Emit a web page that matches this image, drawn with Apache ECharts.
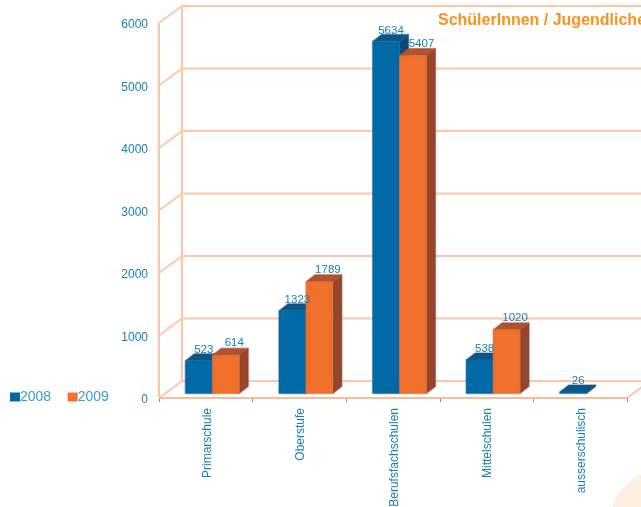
<!DOCTYPE html>
<html><head><meta charset="utf-8">
<style>html,body{margin:0;padding:0;background:#fff}#c{width:641px;height:507px}</style>
<script src="https://cdn.jsdelivr.net/npm/echarts@6/dist/echarts.min.js"></script>
</head><body><div id="c"></div>
<script>
const categories = ['Primarschule','Oberstufe','Berufsfachschulen','Mittelschulen','ausserschulisch'];
const values2008 = [523,1323,5634,538,26];
const values2009 = [614,1789,5407,1020,null];
const yTicks = [0,1000,2000,3000,4000,5000,6000];
const FONT = '"Liberation Sans", Arial, sans-serif';
const LINE = '#fcc7a9', TEXT = '#1b7db6';
const WALL_X = 23, WALL_Y = -17, BAR_X = 9, BAR_Y = -7, SHIFT_X = 6.5, SHIFT_Y = -4.5, BAR_FRAC = 27/93.6;

function line(x1,y1,x2,y2,color){
  return {type:'line',shape:{x1,y1,x2,y2},style:{stroke:color||LINE,lineWidth:2},silent:true};
}
function wallItem(params, api){
  const v = api.value(0), cs = params.coordSys, y = api.coord([0,v])[1];
  const kids = [
    line(cs.x,y,cs.x+WALL_X,y+WALL_Y),
    line(cs.x+WALL_X,y+WALL_Y,api.getWidth(),y+WALL_Y)
  ];
  if(v===0){
    kids.push(line(cs.x,y,cs.x+cs.width,y,'#fbbb98'));
    kids.push(line(cs.x+cs.width,y,cs.x+cs.width+WALL_X,y+WALL_Y));
    kids.push(line(cs.x,cs.y,cs.x,y));
    kids.push(line(cs.x+WALL_X,cs.y+WALL_Y,cs.x+WALL_X,y+WALL_Y));
  }
  return {type:'group',children:kids};
}
function geom(offset, api){
  const v = api.value(1);
  if(v==null || isNaN(v)) return null;
  const band = api.size([1,0])[0], w = band*BAR_FRAC;
  const c = api.coord([api.value(0),v]), b = api.coord([api.value(0),0]);
  const x0 = c[0]+SHIFT_X+offset*w;
  return {v, x0, x1:x0+w, yT:c[1]+SHIFT_Y, yB:b[1]+SHIFT_Y};
}
function barItem(offset, front, top, side){
  return function(params, api){
    const g = geom(offset, api);
    if(!g) return null;
    const {x0,x1,yT,yB} = g;
    const poly = (pts,fill)=>({type:'polygon',shape:{points:pts},style:{fill,stroke:fill,lineWidth:0.4,
      shadowBlur:2,shadowColor:'rgba(90,110,140,0.35)'}});
    return {type:'group',children:[
      poly([[x1,yT],[x1+BAR_X,yT+BAR_Y],[x1+BAR_X,yB+BAR_Y],[x1,yB]],side),
      poly([[x0,yT],[x0+BAR_X,yT+BAR_Y],[x1+BAR_X,yT+BAR_Y],[x1,yT]],top),
      poly([[x0,yT],[x1,yT],[x1,yB],[x0,yB]],front)
    ]};
  };
}
function labelItem(offset, dx, dy){
  return function(params, api){
    const g = geom(offset, api);
    if(!g) return null;
    return {type:'text',style:{text:String(g.v),x:(g.x0+g.x1)/2+BAR_X-2+dx,y:g.yT+BAR_Y+dy,align:'center',verticalAlign:'bottom',
      fill:TEXT,font:'11.5px '+FONT}};
  };
}
const data2008 = categories.map((c,i)=>[i,values2008[i]]);
const data2009 = categories.map((c,i)=>[i,values2009[i]]);
const chart = echarts.init(document.getElementById('c'),null,{renderer:'canvas'});
chart.setOption({
  animation:false,
  backgroundColor:'#fff',
  textStyle:{fontFamily:FONT},
  title:{text:'SchülerInnen / Jugendliche',left:433,top:8,textStyle:{color:'#f8931f',fontSize:16,fontWeight:'bold',fontFamily:FONT}},
  legend:{show:true,left:5,top:385,itemWidth:10,itemHeight:9,itemGap:16.5,icon:'rect',
    data:['2008','2009'],textStyle:{color:'#3b9fc6',fontSize:14,fontFamily:FONT,padding:[1,0,0,-5]}},
  grid:{left:159,top:23,width:468,height:375,outerBoundsMode:'none',containLabel:false},
  xAxis:{type:'category',data:categories,
    axisLine:{show:false},
    axisTick:{show:true,length:4,lineStyle:{color:'#ef6a2e',width:1}},
    axisLabel:{rotate:90,color:TEXT,fontSize:12,margin:10,interval:0,fontFamily:FONT,verticalAlign:'top',lineHeight:3}},
  yAxis:{type:'value',min:0,max:6000,interval:1000,
    axisLine:{show:false},axisTick:{show:false},splitLine:{show:false},
    axisLabel:{color:TEXT,fontSize:12,margin:11,fontFamily:FONT,verticalAlign:'top',lineHeight:4,
      formatter:v=>yTicks.includes(v)?String(v):''}},
  series:[
    {type:'custom',name:'walls',silent:true,coordinateSystem:'cartesian2d',data:yTicks.map(v=>[v]),
      encode:{y:0},renderItem:wallItem,z:1},
    {type:'custom',name:'2008',data:data2008,encode:{x:0,y:1},
      itemStyle:{color:'#0169a6'},renderItem:barItem(-1,'#0169a6','#0c5688','#0b4a78'),z:2},
    {type:'custom',name:'2009',data:data2009,encode:{x:0,y:1},
      itemStyle:{color:'#f1702c'},renderItem:barItem(0,'#f1702c','#b4522c','#98462a'),z:3},
    {type:'custom',name:'labels2008',silent:true,data:data2008,encode:{x:0,y:1},renderItem:labelItem(-1,-2,2),z:4},
    {type:'custom',name:'labels2009',silent:true,data:data2009,encode:{x:0,y:1},renderItem:labelItem(0,1.5,1),z:4}
  ],
  graphic:[{type:'circle',z:0,silent:true,shape:{cx:660,cy:520,r:49},style:{fill:'#fdf0e2'}}]
});
</script></body></html>
